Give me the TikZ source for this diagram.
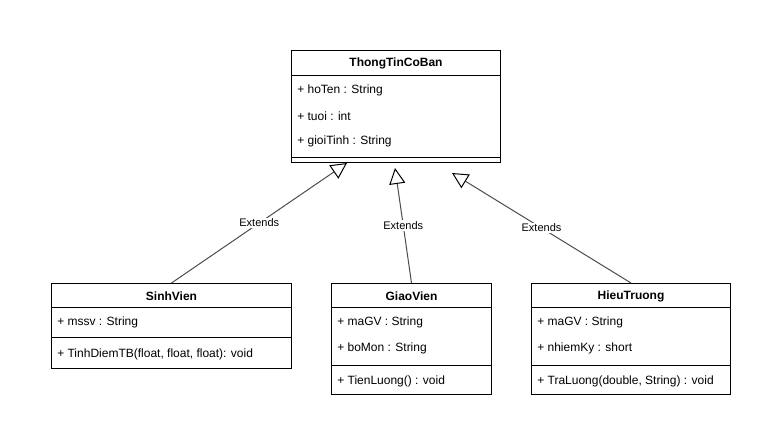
\documentclass[tikz,border=0pt]{standalone}
\usepackage{fontspec}
\setmainfont{Liberation Sans}
\usetikzlibrary{arrows.meta,positioning,calc}

\begin{document}
\begin{tikzpicture}[x=0.75pt, y=-0.75pt,
    font=\fontsize{9}{11}\selectfont,
    classbox/.style={draw, line width=0.75pt, anchor=north west, inner sep=0pt},
    title/.style={font=\fontsize{9}{11}\selectfont\bfseries, inner sep=0pt},
    attr/.style={anchor=west, inner sep=0pt},
    sep/.style={line width=0.75pt},
    extends/.style={draw=black!70, line width=0.75pt, -{Triangle[open, length=12pt, width=12pt, color=black]}},
    lbl/.style={fill=white, font=\fontsize{8.25}{10}\selectfont, inner sep=1pt}]
    \useasboundingbox (0,0) rectangle (781,448);

    % ThongTinCoBan
    \node [classbox, minimum width=156.75pt, minimum height=84pt] (ttcb) at (291,50) {};
    \node [title] (ttcbname) at ($(ttcb.north)+(0,13)$) {ThongTinCoBan};
    \draw [sep] (ttcb.west |- 0,76) -- (ttcb.east |- 0,76);
    \draw [sep] (ttcb.west |- 0,158) -- (ttcb.east |- 0,158);
    \node [attr] (hoten) at (297,90) {+ hoTen : String};
    \node [attr] (tuoi) at (297,116) {+ tuoi : int};
    \node [attr] (gioitinh) at (297,141) {+ gioiTinh : String};

    % SinhVien
    \node [classbox, minimum width=180pt, minimum height=63.75pt] (sinh) at (51,283) {};
    \node [title] (sinhname) at ($(sinh.north)+(0,13)$) {SinhVien};
    \draw [sep] (sinh.west |- 0,308) -- (sinh.east |- 0,308);
    \draw [sep] (sinh.west |- 0,338) -- (sinh.east |- 0,338);
    \node [attr] (mssv) at (57,322) {+ mssv : String};
    \node [attr] (tinhdiem) at (57,354) {+ TinhDiemTB(float, float, float): void};

    % GiaoVien
    \node [classbox, minimum width=120pt, minimum height=83.25pt] (giao) at (331,283) {};
    \node [title] (giaoname) at ($(giao.north)+(0,13)$) {GiaoVien};
    \draw [sep] (giao.west |- 0,308) -- (giao.east |- 0,308);
    \draw [sep] (giao.west |- 0,366) -- (giao.east |- 0,366);
    \node [attr] (magv1) at (337,322) {+ maGV : String};
    \node [attr] (bomon) at (337,348) {+ boMon : String};
    \node [attr] (tienluong) at (337,381) {+ TienLuong() : void};

    % HieuTruong
    \node [classbox, minimum width=149.25pt, minimum height=83.25pt] (hieu) at (531,283) {};
    \node [title] (hieuname) at ($(hieu.north)+(0,13)$) {HieuTruong};
    \draw [sep] (hieu.west |- 0,308) -- (hieu.east |- 0,308);
    \draw [sep] (hieu.west |- 0,366) -- (hieu.east |- 0,366);
    \node [attr] (magv2) at (537,322) {+ maGV : String};
    \node [attr] (nhiemky) at (537,348) {+ nhiemKy : short};
    \node [attr] (traluong) at (537,381) {+ TraLuong(double, String) : void};

    % Generalisation arrows
    \coordinate (tip1) at (347,163);
    \coordinate (tip2) at (395,168);
    \coordinate (tip3) at (452,173);
    \draw [extends] (sinh.north) -- node[lbl] {Extends} (tip1);
    \draw [extends] (giao.north) -- node[lbl] {Extends} (tip2);
    \draw [extends] (hieu.north) -- node[lbl] {Extends} (tip3);
\end{tikzpicture}
\end{document}
